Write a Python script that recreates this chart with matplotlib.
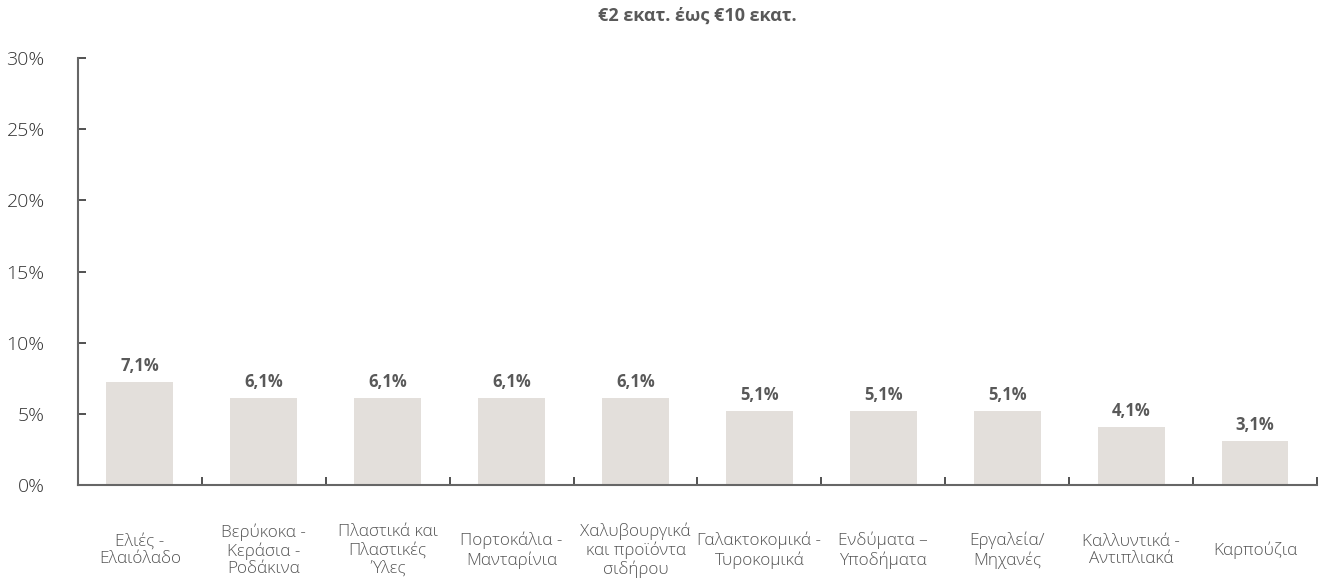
import numpy as np
import matplotlib.pyplot as plt

plt.rcParams['font.family'] = ['Open Sans', 'Noto Sans', 'DejaVu Sans']

categories = ["Ελιές -\nΕλαιόλαδο", "Βερύκοκα -\nΚεράσια -\nΡοδάκινα",
              "Πλαστικά και\nΠλαστικές\nΎλες", "Πορτοκάλια -\nΜανταρίνια",
              "Χαλυβουργικά\nκαι προϊόντα\nσιδήρου", "Γαλακτοκομικά -\nΤυροκομικά",
              "Ενδύματα –\nΥποδήματα", "Εργαλεία/\nΜηχανές",
              "Καλλυντικά -\nΑντιπλιακά", "Καρπούζια"]
values = [7.25, 6.1, 6.1, 6.1, 6.1, 5.2, 5.2, 5.2, 4.1, 3.1]
value_labels = ["7,1%", "6,1%", "6,1%", "6,1%", "6,1%", "5,1%", "5,1%", "5,1%", "4,1%", "3,1%"]
yticks = [0, 5, 10, 15, 20, 25, 30]
title = "€2 εκατ. έως €10 εκατ."

fig = plt.figure(figsize=(13.24, 5.81), dpi=100)
ax = fig.add_axes([0.0589, 0.1652, 0.9358, 0.735])

x = np.arange(len(categories))
ax.bar(x, values, width=0.54, color='#e3dfdb')

for xi, v, lab in zip(x, values, value_labels):
    ax.annotate(lab, (xi, v), xytext=(0, 5), textcoords='offset points',
                ha='center', va='bottom', fontsize=12, fontweight='bold', color='#595959')

for xi, lab in zip(x, categories):
    ax.annotate(lab, (xi, 0), xycoords=('data', 'axes fraction'), xytext=(0, -47),
                textcoords='offset points', ha='center', va='center',
                fontsize=12.3, fontweight='light', color='#555555', linespacing=1.12)

ax.set_xlim(-0.5, len(categories) - 0.5)
ax.set_ylim(0, 30)
ax.set_yticks(yticks)
ax.set_yticklabels([f"{t}%" for t in yticks], fontsize=14, fontweight='light', color='#333333')
ax.tick_params(axis='y', direction='in', length=6, width=1.2, color='#333333', pad=24)
ax.set_xticks(np.arange(len(categories) + 1) - 0.5)
ax.set_xticklabels([])
ax.tick_params(axis='x', direction='in', length=6, width=1.2, color='#333333')

for s in ['top', 'right']:
    ax.spines[s].set_visible(False)
for s in ['left', 'bottom']:
    ax.spines[s].set_color('#666666')
    ax.spines[s].set_linewidth(1.5)

fig.text(0.527, 0.972, title, ha='center', va='center', fontsize=13,
         fontweight='bold', color='#595959')

fig.savefig('out.png', dpi=100)
